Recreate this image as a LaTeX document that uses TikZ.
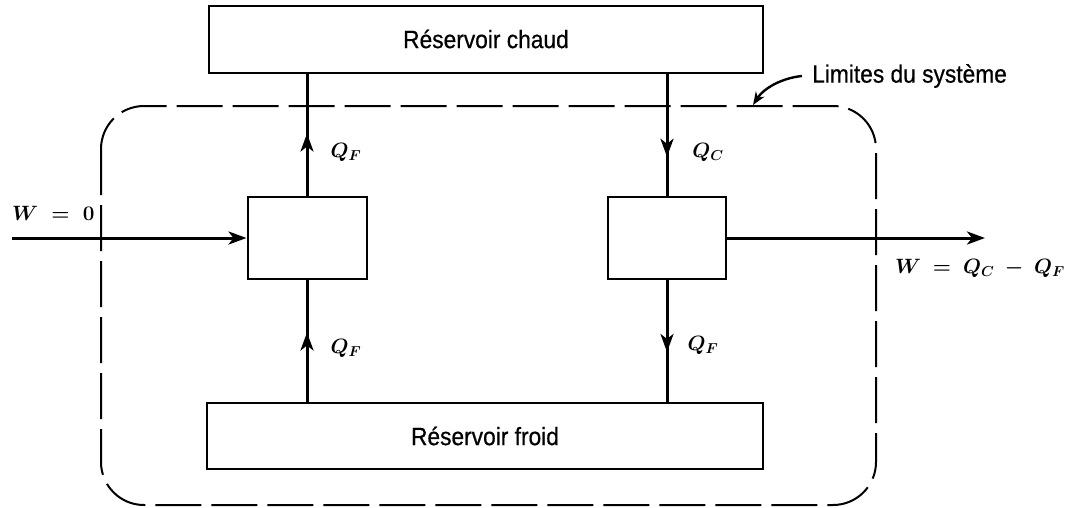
\documentclass[tikz,border=0pt]{standalone}
\usepackage{fontspec}
\newfontfamily\lsans{Liberation Sans}[FakeBold=0.6]
\usetikzlibrary{arrows.meta,decorations.markings}
\newcommand\narrowtext[1]{\scalebox{0.91}[1]{#1}}
\begin{document}
\begin{tikzpicture}[x=1pt,y=-1pt,
  box/.style={draw, line width=2pt, inner sep=0pt, rectangle},
  res/.style={box, font=\lsans\fontsize{25}{28}\selectfont},
  flow/.style={line width=3pt},
  tipend/.style={-{Stealth[length=18pt,width=13pt,inset=5pt]}},
  midarrow/.style={postaction={decorate}, decoration={markings, mark=at position #1 with {\arrow{Stealth[length=18pt,width=13pt,inset=5pt]}}}},
  mathlab/.style={font=\fontsize{22}{26}\selectfont\boldmath, inner sep=0pt},
  boundary/.style={line width=2pt, dash pattern=on 46pt off 10pt, rounded corners=43pt},
]
\useasboundingbox (0,0) rectangle (1068,507);

% system boundary
\draw[boundary] (101,106) rectangle (876,505);

% reservoirs and machines
\node[res, minimum width=554pt, minimum height=67pt] (hot) at (486,39) {\narrowtext{Réservoir chaud}};
\node[res, minimum width=556pt, minimum height=66pt] (cold) at (485,436) {\narrowtext{Réservoir froid}};
\node[box, minimum width=119pt, minimum height=82pt] (lbox) at (307,238) {};
\node[box, minimum width=118pt, minimum height=82pt] (rbox) at (667,238) {};

% heat flows
\draw[flow, midarrow=0.51] (lbox.north) -- (lbox.north |- hot.south);
\draw[flow, midarrow=0.57] (lbox.south |- cold.north) -- (lbox.south);
\draw[flow, midarrow=0.68] (rbox.north |- hot.south) -- (rbox.north);
\draw[flow, midarrow=0.59] (rbox.south) -- (rbox.south |- cold.north);

\node[mathlab] (qf1) at (346,152) {$Q_F$};
\node[mathlab] (qc) at (708,152) {$Q_C$};
\node[mathlab] (qf2) at (346,348) {$Q_F$};
\node[mathlab] (qf3) at (703,345) {$Q_F$};

% work
\coordinate (win) at (12,238);
\coordinate (wend) at (985,238);
\draw[flow, tipend] (win) -- (lbox.west);
\draw[flow, tipend] (rbox.east) -- (wend);
\node[mathlab, anchor=west] (w0) at (12,213) {$W \mskip5mu = \mskip5mu 0$};
\node[mathlab, anchor=east] (wout) at (1065,268) {$W \mskip4mu = \mskip4mu Q_C \mskip4mu - \mskip4mu Q_F$};

% boundary label
\node[anchor=west, inner sep=0pt, font=\lsans\fontsize{25}{28}\selectfont] (lim) at (812,76) {\narrowtext{Limites du système}};
\coordinate (limtip) at (753,105);
\draw[line width=2.4pt, -{Stealth[length=13pt,width=10pt,inset=4pt]}] ([xshift=-10pt]lim.west) .. controls (782,78) and (764,88) .. (limtip);
\end{tikzpicture}
\end{document}
